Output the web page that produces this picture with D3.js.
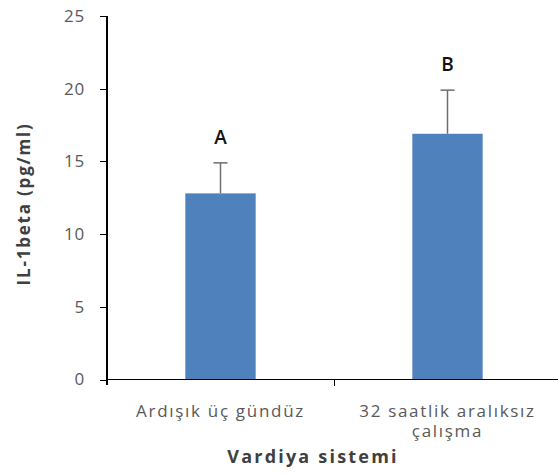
<!DOCTYPE html>
<html>
<head>
<meta charset="utf-8">
<style>
  body { margin: 0; background: #fff; }
  .axis text { font-family: "Open Sans", sans-serif; font-size: 17px; fill: #595959; letter-spacing: 1.7px; }
  .axis path, .axis line { stroke: #000; shape-rendering: crispEdges; }
</style>
</head>
<body>
<script src="https://cdnjs.cloudflare.com/ajax/libs/d3/7.8.5/d3.min.js"></script>
<script>
// data
var categories = ["Ardışık üç gündüz", "32 saatlik aralıksız çalışma"];
var labelLines = [["Ardışık üç gündüz"], ["32 saatlik aralıksız", "çalışma"]];
var means = [12.8, 16.9];
var errors = [2.1, 3.0];
var letters = ["A", "B"];
var yTicks = [0, 5, 10, 15, 20, 25];

var W = 558, H = 475;
var plotLeft = 107, plotRight = 561, plotTop = 16, plotBottom = 379.5;

var svg = d3.select("body").append("svg")
  .attr("width", W).attr("height", H);

var x = d3.scaleBand().domain(categories).range([plotLeft, plotRight]).padding(0);
var y = d3.scaleLinear().domain([0, 25]).range([plotBottom, plotTop]);
var barW = x.bandwidth() * 0.31;
function cx(d) { return x(d) + x.bandwidth() / 2; }

// bars
svg.selectAll(".bar").data(categories).enter().append("rect")
  .attr("class", "bar")
  .attr("x", function(d) { return cx(d) - barW / 2; })
  .attr("width", barW)
  .attr("y", function(d, i) { return y(means[i]); })
  .attr("height", function(d, i) { return y(0) - y(means[i]); })
  .attr("fill", "#4f81bd");

// error bars (upper only)
var eb = svg.selectAll(".err").data(categories).enter().append("g");
eb.append("line")
  .attr("x1", cx).attr("x2", cx)
  .attr("y1", function(d, i) { return y(means[i]); })
  .attr("y2", function(d, i) { return y(means[i] + errors[i]); })
  .attr("stroke", "#6d6d6d").attr("stroke-width", 1.5);
eb.append("line")
  .attr("x1", function(d) { return cx(d) - 7; })
  .attr("x2", function(d) { return cx(d) + 7; })
  .attr("y1", function(d, i) { return y(means[i] + errors[i]); })
  .attr("y2", function(d, i) { return y(means[i] + errors[i]); })
  .attr("stroke", "#6d6d6d").attr("stroke-width", 1.5);

// letters
svg.selectAll(".letter").data(categories).enter().append("text")
  .attr("x", cx)
  .attr("y", function(d, i) { return y(means[i] + errors[i]) - 19; })
  .attr("text-anchor", "middle")
  .style("font-family", "'Open Sans', sans-serif")
  .style("font-size", "19px")
  .style("font-weight", "600")
  .style("fill", "#111")
  .text(function(d, i) { return letters[i]; });

// y axis
var ya = svg.append("g").attr("class", "axis")
  .attr("transform", "translate(" + plotLeft + ",0)")
  .call(d3.axisLeft(y).tickValues(yTicks).tickSize(7).tickSizeOuter(0).tickPadding(15));
ya.select(".domain").attr("d", "M0," + plotTop + "V" + (plotBottom + 5)).attr("stroke-width", 1.5);
ya.selectAll(".tick text").style("letter-spacing", "0.8px");

// x axis
var xa = svg.append("g").attr("class", "axis")
  .attr("transform", "translate(0," + plotBottom + ")");
xa.append("line").attr("x1", plotLeft).attr("x2", plotRight).attr("y1", 0).attr("y2", 0)
  .attr("stroke", "#000").attr("stroke-width", 1.5);
xa.append("line").attr("x1", x(categories[1])).attr("x2", x(categories[1]))
  .attr("y1", 0).attr("y2", 6).attr("stroke", "#000");

xa.selectAll(".lab").data(categories).enter().append("text")
  .attr("text-anchor", "middle")
  .attr("transform", function(d) { return "translate(" + cx(d) + ",37)"; })
  .each(function(d, i) {
    d3.select(this).selectAll("tspan").data(labelLines[i]).enter().append("tspan")
      .attr("x", 0).attr("dy", function(t, j) { return j ? 20 : 0; })
      .text(function(t) { return t; });
  });

// axis titles
svg.append("text")
  .attr("x", 313).attr("y", 463)
  .attr("text-anchor", "middle")
  .style("font-family", "'Open Sans', sans-serif")
  .style("font-size", "18px").style("font-weight", "bold")
  .style("letter-spacing", "2.2px")
  .style("fill", "#404040")
  .text("Vardiya sistemi");

svg.append("text")
  .attr("transform", "translate(30,204) rotate(-90)")
  .attr("text-anchor", "middle")
  .style("font-family", "'Open Sans', sans-serif")
  .style("font-size", "17px").style("font-weight", "bold")
  .style("letter-spacing", "1.8px")
  .style("fill", "#404040")
  .text("IL-1beta (pg/ml)");
</script>
</body>
</html>
